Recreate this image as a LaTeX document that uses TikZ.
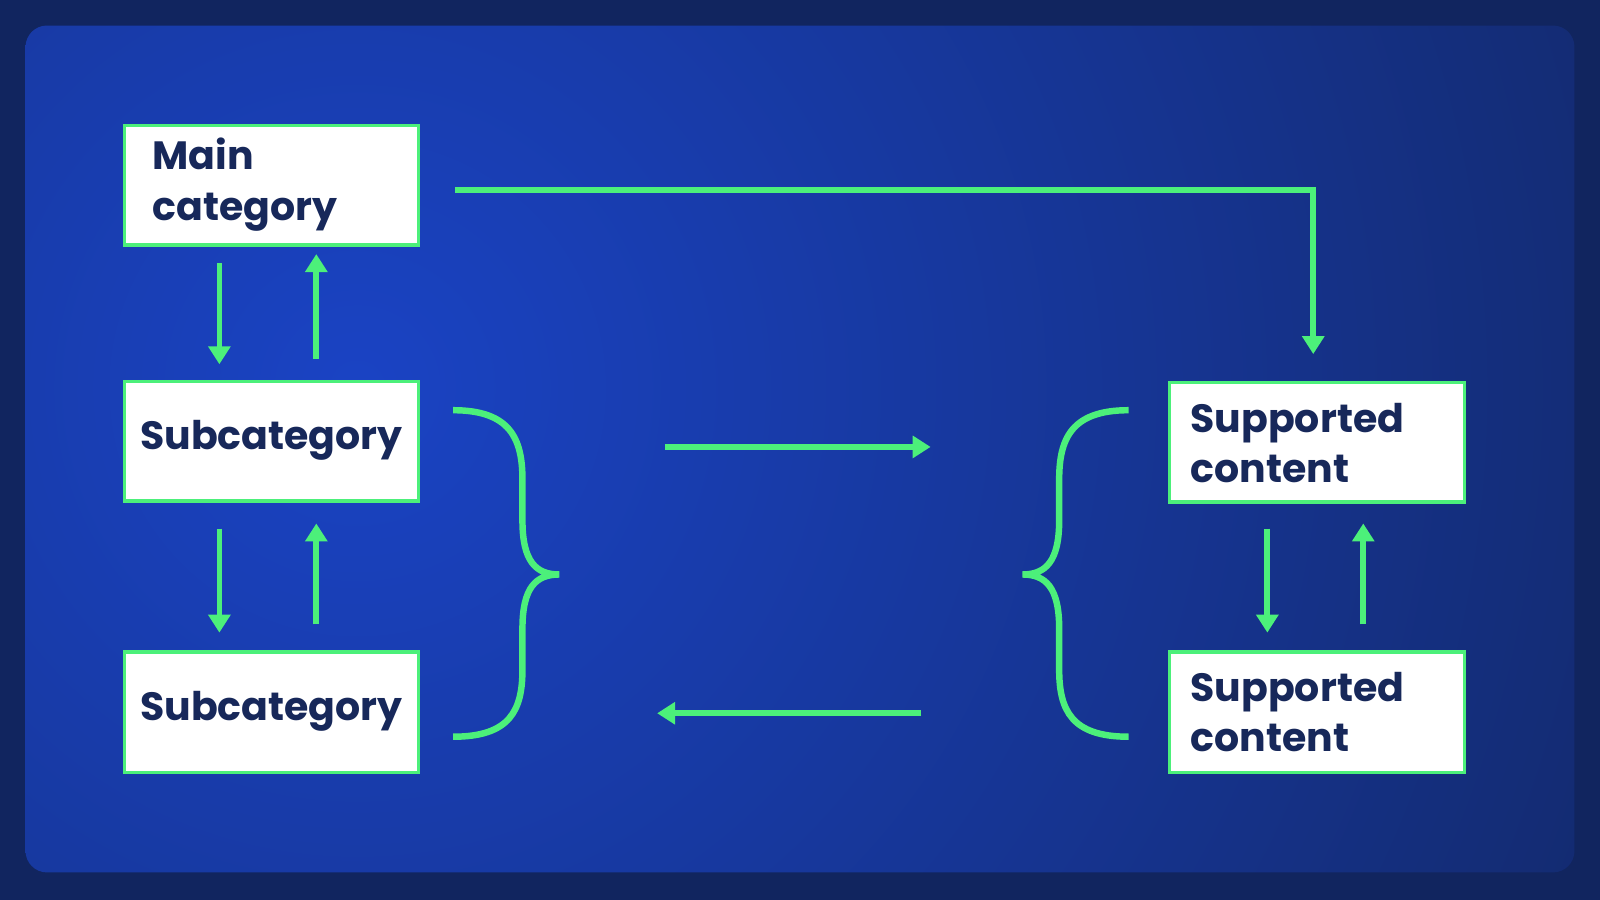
\documentclass[tikz,border=0pt]{standalone}
\usepackage{fontspec}
\setmainfont{Poppins}[BoldFont={Poppins Bold}]
\usetikzlibrary{arrows.meta}
\begin{document}
\begin{tikzpicture}[x=0.01cm,y=-0.01cm,
  lbl/.style={font=\fontsize{11}{14}\selectfont\bfseries,text=navy,align=left,inner sep=0pt},
  bx/.style={draw=grn,line width=0.9pt,fill=white},
  arr/.style={draw=grn,line width=1.6pt,-{Triangle[length=5pt,width=6pt]}},
  brace/.style={draw=grn,line width=1.8pt}]
\definecolor{grn}{HTML}{4CF07A}
\definecolor{navy}{HTML}{17285A}
\definecolor{bgA}{HTML}{11255F}
\definecolor{bgB}{HTML}{1A43C4}
\definecolor{bgC}{HTML}{132A6E}
\useasboundingbox (0,0) rectangle (1568,882);
\fill[bgA] (0,0) rectangle (1568,882);
\begin{scope}
\clip[rounded corners=6pt] (25,25) rectangle (1543,855);
\shade[inner color=bgB,outer color=bgC] (350,380) circle (1350);
\end{scope}
% boxes
\draw[bx] (122,123) rectangle (410,240);
\node[lbl,anchor=west] (main) at (149,181) {Main\\category};
\draw[bx] (122,374) rectangle (410,491);
\node[lbl] (sub1) at (266,432) {Subcategory};
\draw[bx] (122,639) rectangle (410,757);
\node[lbl] (sub2) at (266,697) {Subcategory};
\draw[bx] (1146,375) rectangle (1435,492);
\node[lbl,anchor=west] (sc1) at (1166,434) {Supported\\content};
\draw[bx] (1146,639) rectangle (1435,757);
\node[lbl,anchor=west] (sc2) at (1166,698) {Supported\\content};
% arrow coordinates
\coordinate (a1) at (215,258); \coordinate (a2) at (215,357);
\coordinate (b1) at (310,352); \coordinate (b2) at (310,249);
\coordinate (c1) at (215,518); \coordinate (c2) at (215,620);
\coordinate (d1) at (310,612); \coordinate (d2) at (310,513);
\coordinate (e1) at (1242,518); \coordinate (e2) at (1242,620);
\coordinate (f1) at (1336,612); \coordinate (f2) at (1336,513);
\coordinate (g1) at (446,186); \coordinate (g2) at (1287,186); \coordinate (g3) at (1287,347);
\coordinate (h1) at (652,438); \coordinate (h2) at (912,438);
\coordinate (i1) at (903,699); \coordinate (i2) at (644,699);
\foreach \s/\t in {a1/a2,b1/b2,c1/c2,d1/d2,e1/e2,f1/f2,h1/h2,i1/i2}
  \draw[arr] (\s) -- (\t);
\draw[arr] (g1) -- (g2) -- (g3);
% braces
\draw[brace] (444,402) .. controls (500,402) and (512,430) .. (512,470) -- (512,510)
  .. controls (512,550) and (525,563) .. (548,563)
  .. controls (525,563) and (512,576) .. (512,616) -- (512,656)
  .. controls (512,696) and (500,722) .. (444,722);
\draw[brace] (1106,402) .. controls (1050,402) and (1038,430) .. (1038,470) -- (1038,510)
  .. controls (1038,550) and (1025,563) .. (1002,563)
  .. controls (1025,563) and (1038,576) .. (1038,616) -- (1038,656)
  .. controls (1038,696) and (1050,722) .. (1106,722);
\end{tikzpicture}
\end{document}
